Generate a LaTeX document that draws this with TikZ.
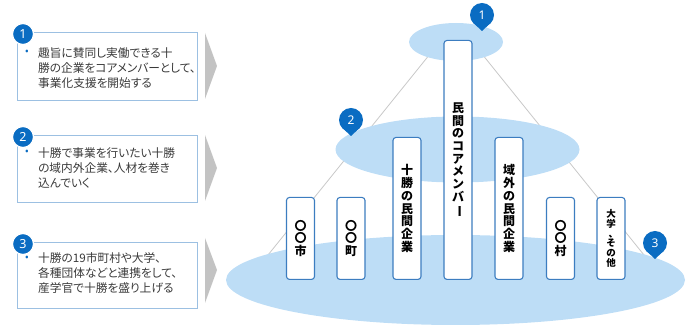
\documentclass[tikz,border=0pt]{standalone}
\usepackage{fontspec}
\usepackage{graphicx}
\setmainfont{Noto Sans CJK JP}[RawFeature=+palt]
\newfontfamily\pillarfont{Noto Sans CJK JP}
\newfontfamily\numfont{Noto Sans}
\usetikzlibrary{shapes.geometric}
\definecolor{ellcol}{HTML}{BDDDF6}
\definecolor{pillarline}{HTML}{3C7DC0}
\definecolor{badgecol}{HTML}{0A6CC2}
\definecolor{boxline}{HTML}{9CC0E2}
\definecolor{chevcol}{HTML}{C3C3C3}
\definecolor{txtcol}{HTML}{3A3A3A}
\definecolor{conecol}{HTML}{C8C8C8}
\newcommand{\vbar}{\rotatebox[origin=c]{-90}{ー}}
\newcommand{\vcomma}{\hbox{\kern0.5em 、}}
\tikzset{
  infobox/.style={draw=boxline, line width=1pt, fill=white, minimum width=180pt, anchor=north west, inner sep=0pt},
  infotext/.style={text=txtcol, align=left, anchor=west, inner sep=0pt, font=\fontsize{11.7}{15}\selectfont},
  bulletdot/.style={text=badgecol, inner sep=0pt, font=\numfont\fontsize{11}{11}\selectfont},
  ellbase/.style={ellipse, fill=ellcol, inner sep=0pt},
  pillar/.style={draw=pillarline, line width=1.1pt, fill=white, rounded corners=3pt, minimum width=28pt, inner sep=0pt, anchor=south, align=center, font=\pillarfont\bfseries\fontsize{12}{12.7}\selectfont},
  badgenum/.style={text=white, inner sep=0pt, font=\numfont\bfseries\fontsize{12}{12}\selectfont},
  leftbadge/.style={circle, fill=badgecol, draw=white, line width=1.2pt, minimum size=21pt, inner sep=0pt, text=white, font=\numfont\bfseries\fontsize{12.5}{12.5}\selectfont},
  cone/.style={draw=conecol, line width=0.8pt}
}
\begin{document}
\begin{tikzpicture}[x=1pt,y=-1pt]
\useasboundingbox (0,0) rectangle (697,336);
% left boxes
\node[infobox, minimum height=68pt] (b1) at (17,32) {};
\node[infobox, minimum height=67pt] (b2) at (17,135) {};
\node[infobox, minimum height=66pt] (b3) at (17,242) {};
\node[infotext] (t1) at (38,68) {趣旨に賛同し実働できる十\\勝の企業をコアメンバーとして、\\事業化支援を開始する};
\node[infotext] (t2) at (38,168) {十勝で事業を行いたい十勝\\の域内外企業、人材を巻き\\込んでいく};
\node[infotext] (t3) at (38,273) {十勝の19市町村や大学、\\各種団体などと連携をして、\\産学官で十勝を盛り上げる};
\node[bulletdot] (d1) at (27,53) {•};
\node[bulletdot] (d2) at (27,153) {•};
\node[bulletdot] (d3) at (27,259) {•};
\node[leftbadge] (lb1) at (23,34) {1};
\node[leftbadge] (lb2) at (23,137) {2};
\node[leftbadge] (lb3) at (23,244) {3};
% chevrons
\fill[chevcol] (205,33) -- (217,66) -- (205,99) -- cycle;
\fill[chevcol] (205,135) -- (217,168) -- (205,201) -- cycle;
\fill[chevcol] (205,238) -- (217,270) -- (205,303) -- cycle;
% cone lines
\coordinate (lt) at (430,54);
\coordinate (lb) at (268,255);
\coordinate (rt) at (482,54);
\coordinate (rb) at (644,255);
\draw[cone] (lt) -- (lb);
\draw[cone] (rt) -- (rb);
% ellipses
\node[ellbase, minimum width=459pt, minimum height=90pt] (e3) at (455.5,280) {};
\node[ellbase, minimum width=244pt, minimum height=66pt] (e2) at (457.5,149.5) {};
\node[ellbase, minimum width=94pt, minimum height=38pt] (e1) at (456,42) {};
% pillars
\node[pillar, minimum height=82pt] (c1) at (300.5,280) {〇\\〇\\市};
\node[pillar, minimum height=82pt] (c2) at (351,280) {〇\\〇\\町};
\node[pillar, minimum height=142pt] (c3) at (407,280) {十\\勝\\の\\民\\間\\企\\業};
\node[pillar, minimum height=239pt] (c4) at (458,280) {民\\間\\の\\コ\\ア\\メ\\ン\\バ\\\vbar};
\node[pillar, minimum height=142pt] (c5) at (509,280) {域\\外\\の\\民\\間\\企\\業};
\node[pillar, minimum height=82pt] (c6) at (560.5,280) {〇\\〇\\村};
\node[pillar, minimum height=82pt, font=\pillarfont\bfseries\fontsize{9.5}{9.8}\selectfont] (c7) at (611,280) {大\\学\\\vcomma\\そ\\の\\他};
% right badges (pins)
\foreach \cx/\cy/\num/\nm in {482/15/1/p1, 351/120/2/p2, 655/243/3/p3}{
  \fill[badgecol] (\cx-7.5,\cy+9) -- (\cx,\cy+16) -- (\cx+7.5,\cy+9) -- cycle;
  \fill[badgecol] (\cx,\cy) circle[radius=12pt];
  \node[badgenum] (\nm) at (\cx,\cy) {\num};
}
\end{tikzpicture}
\end{document}
